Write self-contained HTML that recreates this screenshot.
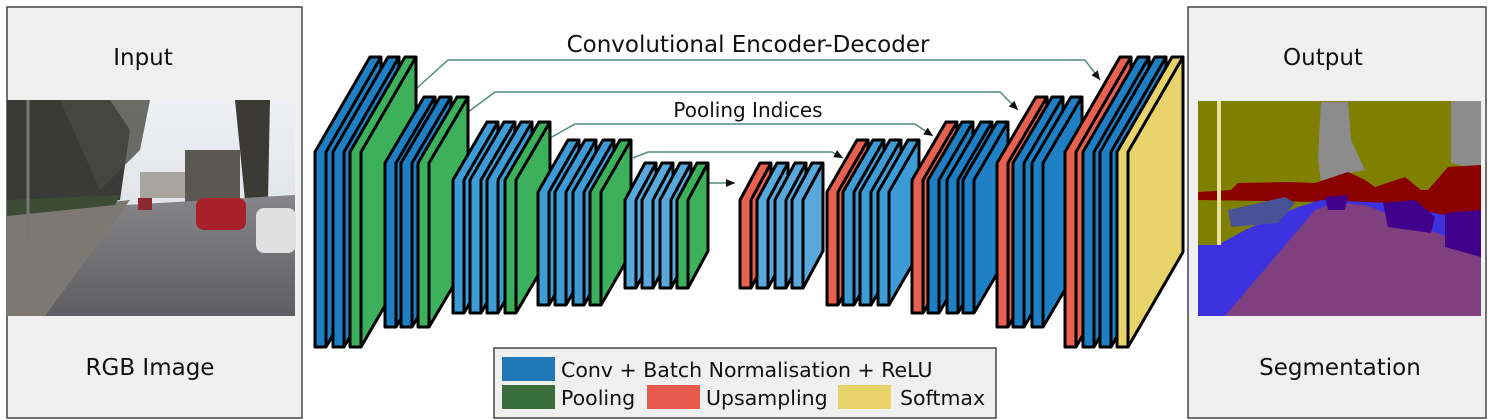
<!DOCTYPE html>
<html><head><meta charset="utf-8"><style>
body{margin:0;width:1493px;height:420px;background:#fff;overflow:hidden;font-family:"DejaVu Sans","Liberation Sans",sans-serif;}
svg{position:absolute;left:0;top:0}
</style></head><body>
<svg id="fig" width="1493" height="420" viewBox="0 0 1493 420" xmlns="http://www.w3.org/2000/svg" font-family="DejaVu Sans, Liberation Sans, sans-serif">
  <g>
    <rect x="7" y="7" width="295" height="411" fill="#f0f0f0" stroke="#444" stroke-width="1.5"/>
    <text x="143" y="65" font-size="23" text-anchor="middle" fill="#111">Input</text>
    <text x="150" y="375" font-size="23" text-anchor="middle" fill="#111">RGB Image</text>
    <g>
      <defs>
        <linearGradient id="road" x1="0" y1="0" x2="0" y2="1"><stop offset="0" stop-color="#85858a"/><stop offset="1" stop-color="#5e5e62"/></linearGradient>
        <linearGradient id="sky" x1="0" y1="0" x2="0" y2="1"><stop offset="0" stop-color="#eef0f4"/><stop offset="1" stop-color="#d4d8de"/></linearGradient>
      </defs>
      <rect x="7" y="100" width="288" height="216" fill="url(#sky)"/>
      <polygon points="7,100 110,100 130,130 120,200 7,215" fill="#3a3a36"/>
      <polygon points="60,100 150,100 140,150 100,190" fill="#4a4a44" opacity="0.8"/>
      <rect x="185" y="150" width="55" height="55" fill="#5a5650"/>
      <polygon points="235,100 270,100 268,200 245,200" fill="#3c3a34"/>
      <rect x="140" y="172" width="45" height="26" fill="#a8a49e"/>
      <polygon points="7,212 295,195 295,316 7,316" fill="url(#road)"/>
      <polygon points="7,212 130,200 45,316 7,316" fill="#7c7872"/>
      <polygon points="7,200 120,195 115,205 7,216" fill="#3d4a34"/>
      <rect x="196" y="198" width="50" height="32" rx="8" fill="#a8202a"/>
      <rect x="256" y="208" width="40" height="45" rx="8" fill="#e0e0e0"/>
      <rect x="138" y="198" width="14" height="12" fill="#8a2a30"/>
      <line x1="28" y1="100" x2="28" y2="240" stroke="#777" stroke-width="3"/>
    </g>
  </g>
  <g>
    <rect x="1188" y="7" width="298" height="411" fill="#f0f0f0" stroke="#444" stroke-width="1.5"/>
    <text x="1323" y="65" font-size="23" text-anchor="middle" fill="#111">Output</text>
    <text x="1340" y="375" font-size="23" text-anchor="middle" fill="#111">Segmentation</text>
    <g transform="translate(1198,101)">
      <rect x="0" y="0" width="283" height="215" fill="#808000"/>
      <polygon points="123,1 150,1 153,39 167,69 150,72 123,82 120,56" fill="#8c8c8c"/>
      <polygon points="253,0 283,0 283,69 253,62" fill="#8c8c8c"/>
      <polygon points="0,91 33,89 40,82 90,81 117,82 150,71 167,79 177,86 207,76 223,89 230,89 250,66 283,64 283,116 237,119 190,102 0,99" fill="#8b0000"/>
      <polygon points="0,144 20,144 47,129 100,106 123,99 190,102 283,122 283,215 0,215" fill="#3c32e0"/>
      <polygon points="27,215 117,109 137,102 167,104 283,149 283,215" fill="#804080"/>
      <polygon points="185,102 217,99 237,116 233,132 190,126" fill="#40008c"/>
      <polygon points="247,112 283,109 283,156 247,146" fill="#40008c"/>
      <polygon points="127,96 150,94 147,109 130,109" fill="#40008c"/>
      <polygon points="30,109 87,96 97,102 80,122 33,126" fill="#4a5296"/>
      <rect x="19" y="0" width="4" height="144" fill="#e8e0a0"/>
    </g>
  </g>
  <text x="748" y="52" font-size="23" text-anchor="middle" fill="#111">Convolutional Encoder-Decoder</text>
  <text x="748" y="117" font-size="20" text-anchor="middle" fill="#111">Pooling Indices</text>
  <g id="links"></g>
  <g id="layers"></g>
  <g>
    <rect x="494" y="348" width="502" height="70" fill="#f0f0f0" stroke="#444" stroke-width="1.5"/>
    <g><rect x="502" y="357" width="53" height="24" fill="#1f78b8"/><text x="561" y="377" font-size="20.5" fill="#111">Conv + Batch Normalisation + ReLU</text></g>
    <g><rect x="502" y="385" width="53" height="24" fill="#3a6e3c"/><text x="561" y="405" font-size="20.5" fill="#111">Pooling</text></g>
    <g><rect x="647" y="385" width="53" height="24" fill="#e85a4e"/><text x="706" y="405" font-size="20.5" fill="#111">Upsampling</text></g>
    <g><rect x="838" y="385" width="53" height="24" fill="#e8d36a"/><text x="900" y="405" font-size="20.5" fill="#111">Softmax</text></g>
  </g>
</svg>
<script>
const blockFronts = [[315,333,350],[385,401,418],[453,470,487,505],[538,555,573,590],[625,642,660,677],
                     [740,757,775,792],[827,843,860,878],[912,928,947,963],[997,1013,1032],[1065,1083,1100,1117]];
const blockTops = [152,163,180,192,200,200,192,180,163,152];
const blockHeights = [195,164,133,113,88,88,113,133,164,195];
const depthX = [55,39,34,30,20,20,30,34,39,55];
const depthY = [95,66,58,52,37,37,52,58,66,95];
const layerTypes = [['c1','c1','p'],['c1','c1','p'],['c2','c2','c2','p'],['c2','c2','c2','p'],['c3','c3','c3','p'],
                    ['u','c3','c3','c3'],['u','c2','c2','c2'],['u','c1','c1','c1'],['u','c1','c1'],['u','c1','c1','s']];
const colors = {c1:'#1f7fc4',c2:'#3d9cd6',c3:'#58a8dc',p:'#3db05c',u:'#e8604f',s:'#e8d36a'};
const NS='http://www.w3.org/2000/svg';
const layersG=document.getElementById('layers');
const W=11;
blockFronts.forEach((fr,b)=>{
  const y=blockTops[b],h=blockHeights[b],dx=depthX[b],dy=depthY[b];
  fr.forEach((x,i)=>{
    const g=document.createElementNS(NS,'g');
    
    
    const c=colors[layerTypes[b][i]];
    const side=document.createElementNS(NS,'polygon');
    side.setAttribute('points',`${x},${y} ${x+dx},${y-dy} ${x+W+dx},${y-dy} ${x+W+dx},${y+h-dy} ${x+W},${y+h} ${x},${y+h}`);
    side.setAttribute('fill',c);side.setAttribute('stroke','#000');side.setAttribute('stroke-width','3');side.setAttribute('stroke-linejoin','round');
    g.appendChild(side);
    const edge=document.createElementNS(NS,'polyline');
    edge.setAttribute('points',`${x+W},${y+h} ${x+W},${y} ${x+W+dx},${y-dy}`);
    edge.setAttribute('fill','none');edge.setAttribute('stroke','#000');edge.setAttribute('stroke-width','3');
    g.appendChild(edge);
    layersG.appendChild(g);
  });
});
const linkPaths=['M417,88 L448,60 L1085,60 L1100,80','M468,112 L495,92 L1000,92 L1018,110','M550,138 L575,124 L915,124 L933,136','M633,158 L648,152 L832,152 L843,158','M707,183 L735,183'];
const linksG=document.getElementById('links');
linkPaths.forEach((d,i)=>{
  const p=document.createElementNS(NS,'path');
  
  
  p.setAttribute('d',d);p.setAttribute('fill','none');p.setAttribute('stroke','#4e8c80');p.setAttribute('stroke-width','1.5');
  linksG.appendChild(p);
  const m=d.match(/L(\d+),(\d+)\s*$/), prev=d.match(/L(\d+),(\d+)\s+L\d+,\d+\s*$/)||d.match(/M(\d+),(\d+)/);
  const ex=+m[1],ey=+m[2],px=+prev[1],py=+prev[2];
  const a=Math.atan2(ey-py,ex-px);
  const h=document.createElementNS(NS,'polygon');
  
  
  const l=9,w=4;
  h.setAttribute('points',`${ex},${ey} ${ex-l*Math.cos(a)+w*Math.sin(a)},${ey-l*Math.sin(a)-w*Math.cos(a)} ${ex-l*Math.cos(a)-w*Math.sin(a)},${ey-l*Math.sin(a)+w*Math.cos(a)}`);
  h.setAttribute('fill','#111');
  linksG.appendChild(h);
});
</script>
</body></html>
